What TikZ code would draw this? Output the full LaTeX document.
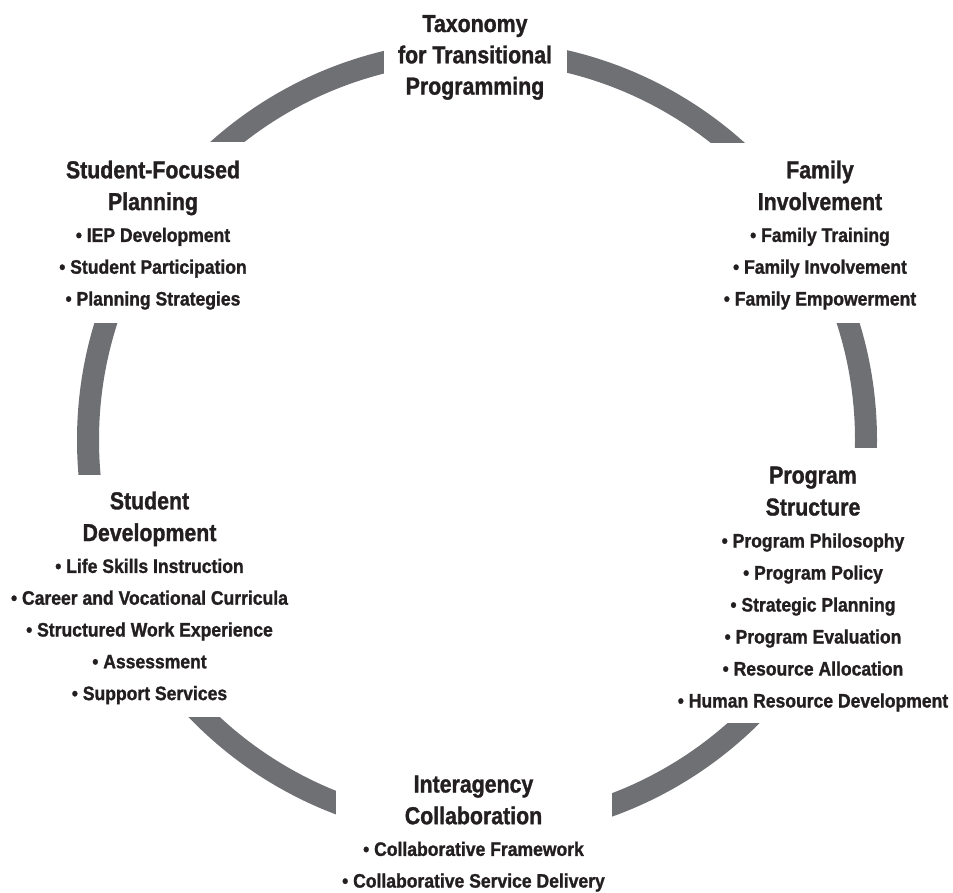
\documentclass[tikz,border=0pt]{standalone}
\usepackage{fontspec}
\setmainfont{Liberation Sans}
\newfontfamily\headfam[FakeStretch=0.87,FakeBold=1.2]{Liberation Sans}
\newfontfamily\itemfam[FakeStretch=0.9,FakeBold=1.2]{Liberation Sans}
\definecolor{ringgray}{RGB}{111,112,116}
\definecolor{ink}{RGB}{35,31,32}

\begin{document}
\begin{tikzpicture}[x=1pt,y=-1pt,
  head/.style={font=\headfam\bfseries\fontsize{24.5}{30}\selectfont,
               anchor=base, inner sep=0pt, text=ink},
  item/.style={font=\itemfam\bfseries\fontsize{19.5}{24}\selectfont,
               anchor=base, inner sep=0pt, text=ink},
  mask/.style={fill=white},
  cycle ring/.style={draw=ringgray, line width=22pt}]
\useasboundingbox (0,0) rectangle (953,893);

% the cycle ring
\draw[cycle ring] (477,440) circle (389);

% gaps in the ring where the labels sit
\fill[mask] (384,0)     rectangle (567,110);   % title
\fill[mask] (0,142.3)   rectangle (300,322.7); % student-focused planning
\fill[mask] (650,142.7) rectangle (953,322.7); % family involvement
\fill[mask] (0,475)     rectangle (300,716.7); % student development
\fill[mask] (650,448)   rectangle (953,722.7); % program structure
\fill[mask] (335.7,760) rectangle (612,893);   % interagency collaboration

% title
\foreach \t [count=\i from 0] in {Taxonomy,for Transitional,Programming}
  \node[head] (tax-\i) at (475,{32+31.3*\i}) {\t};

% student-focused planning
\foreach \t [count=\i from 0] in {Student-Focused,Planning}
  \node[head] (sfp-\i) at (153,{178.3+31.8*\i}) {\t};
\foreach \t [count=\i from 2] in {IEP Development,Student Participation,Planning Strategies}
  \node[item] (sfp-\i) at (153,{178.3+31.8*\i}) {• \t};

% family involvement
\foreach \t [count=\i from 0] in {Family,Involvement}
  \node[head] (fam-\i) at (820,{178.3+31.8*\i}) {\t};
\foreach \t [count=\i from 2] in {Family Training,Family Involvement,Family Empowerment}
  \node[item] (fam-\i) at (820,{178.3+31.8*\i}) {• \t};

% student development
\foreach \t [count=\i from 0] in {Student,Development}
  \node[head] (sd-\i) at (149.5,{509.3+31.8*\i}) {\t};
\foreach \t [count=\i from 2] in {Life Skills Instruction,Career and Vocational Curricula,Structured Work Experience,Assessment,Support Services}
  \node[item] (sd-\i) at (149.5,{509.3+31.8*\i}) {• \t};

% program structure
\foreach \t [count=\i from 0] in {Program,Structure}
  \node[head] (ps-\i) at (813,{483.5+32*\i}) {\t};
\foreach \t [count=\i from 2] in {Program Philosophy,Program Policy,Strategic Planning,Program Evaluation,Resource Allocation,Human Resource Development}
  \node[item] (ps-\i) at (813,{483.5+32*\i}) {• \t};

% interagency collaboration
\foreach \t [count=\i from 0] in {Interagency,Collaboration}
  \node[head] (ic-\i) at (473.5,{792.5+31.7*\i}) {\t};
\foreach \t [count=\i from 2] in {Collaborative Framework,Collaborative Service Delivery}
  \node[item] (ic-\i) at (473.5,{792.5+31.7*\i}) {• \t};
\end{tikzpicture}
\end{document}
